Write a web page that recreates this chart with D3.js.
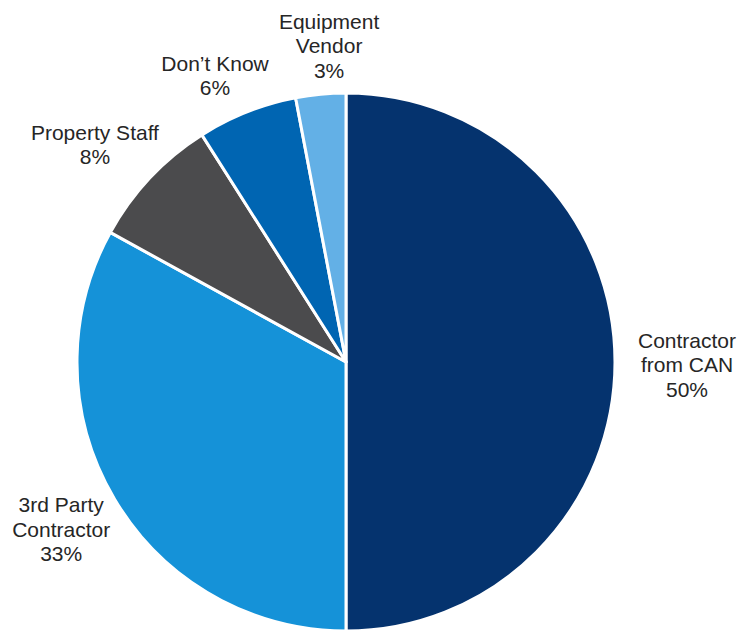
<!DOCTYPE html>
<html>
<head>
<meta charset="utf-8">
<script src="https://cdn.jsdelivr.net/npm/d3@7"></script>
<style>
  html, body { margin: 0; padding: 0; background: #ffffff; }
  svg { display: block; }
  .lbl { font-family: "Liberation Sans", Arial, sans-serif; font-size: 21px; fill: #262626; }
</style>
</head>
<body>
<svg id="chart" width="738" height="632"></svg>
<script>
// Who installed the equipment — share of responses
const categories = ["Contractor from CAN", "3rd Party Contractor", "Property Staff", "Don’t Know", "Equipment Vendor"];
const shares = [50, 33, 8, 6, 3];
const labelLines = [
  ["Contractor", "from CAN"],
  ["3rd Party", "Contractor"],
  ["Property Staff"],
  ["Don’t Know"],
  ["Equipment", "Vendor"]
];
const sliceColors = ["#05336E", "#1592D8", "#4B4B4D", "#0065B2", "#63B0E6"];

const width = 738, height = 632;
const cx = 346, cy = 362, radius = 269;

const svg = d3.select("#chart");
const g = svg.append("g").attr("transform", `translate(${cx},${cy})`);

const pie = d3.pie().sort(null).value(d => d.value);
const arc = d3.arc().innerRadius(0).outerRadius(radius);

const data = categories.map((c, i) => ({ name: c, value: shares[i], lines: labelLines[i], color: sliceColors[i] }));
const arcs = pie(data);

g.selectAll("path.slice")
  .data(arcs)
  .join("path")
  .attr("class", "slice")
  .attr("d", arc)
  .attr("fill", d => d.data.color)
  .attr("stroke", "#ffffff")
  .attr("stroke-width", 3)
  .attr("stroke-linejoin", "round");

// Label anchors sit outside the rim along each slice's mid-angle,
// with a small per-label nudge so neighbouring labels don't collide
const labelRadius = [341, 310, 317, 296, 307];
const labelNudge = [[0, 3], [-18, 10], [-20, 0], [-22, -11], [12, -10]];
const lineH = 24.5;

arcs.forEach((a, i) => {
  const mid = (a.startAngle + a.endAngle) / 2;
  const r = labelRadius[i];
  const x = Math.sin(mid) * r + labelNudge[i][0];
  const y = -Math.cos(mid) * r + labelNudge[i][1];
  const lines = a.data.lines.concat([a.data.value + "%"]);
  const n = lines.length;
  const t = g.append("text")
    .attr("class", "lbl")
    .attr("text-anchor", "middle")
    .attr("x", x)
    .attr("y", y);
  lines.forEach((ln, k) => {
    t.append("tspan")
      .attr("x", x)
      .attr("y", y + (k - (n - 1) / 2) * lineH + 7)
      .text(ln);
  });
});
</script>
</body>
</html>
